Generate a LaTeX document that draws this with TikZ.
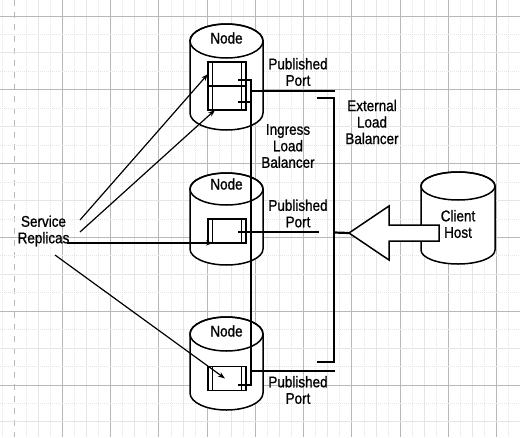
\documentclass[tikz,border=0pt]{standalone}
\usepackage{fontspec}
\setmainfont[FakeStretch=0.87,FakeBold=0.9]{Liberation Sans}
\usetikzlibrary{arrows.meta}

\definecolor{gridmajor}{gray}{0.72}
\definecolor{gridminor}{gray}{0.90}

% cylinder: centre x, top-ellipse y, bottom-ellipse y, x radius, y radius
\newcommand\drawcyl[5]{%
  \draw[cylline,fill=white] ({#1-#4},#2) -- ({#1-#4},#3)
    arc[start angle=180,end angle=360,x radius=#4pt,y radius=#5pt]
    -- ({#1+#4},#2)
    arc[start angle=0,end angle=180,x radius=#4pt,y radius=#5pt] -- cycle;
  \draw[cylline] (#1,#2) ellipse[x radius=#4pt,y radius=#5pt];
}

\tikzset{
  gridmaj/.style={draw=gridmajor,line width=1pt},
  gridhalf/.style={draw=gridminor,line width=1pt},
  gridquar/.style={draw=gridminor,line width=0.8pt,dash pattern=on 1pt off 1pt},
  gridaxis/.style={draw=gridmajor,line width=1.2pt,dash pattern=on 6pt off 6pt},
  cylline/.style={line width=1.5pt},
  lbl/.style={font=\fontsize{15.5}{16.5}\selectfont,align=center,inner sep=0pt},
  ctr/.style={draw,line width=1.5pt,minimum width=38pt,minimum height=24pt,
              inner sep=0pt,outer sep=0pt,fill=white},
  ctrbar/.style={line width=1.2pt},
  lbline/.style={line width=2.2pt},
  replarrow/.style={line width=1.2pt,-{Stealth[length=7pt,width=5pt]}},
  bigarrow/.style={line width=1.5pt,fill=white,line join=miter}
}

\begin{document}
\begin{tikzpicture}[x=1pt,y=-1pt]
\useasboundingbox (0,0) rectangle (520,437);
\fill[white] (0,0) rectangle (520,437);

% background grid
\foreach \j in {-1,...,42}{
  \pgfmathsetmacro\gx{14.2+12.0625*\j}
  \pgfmathtruncatemacro\gm{mod(\j+4,4)}
  \ifnum\gm=0
    \ifnum\j=0 \draw[gridaxis] (\gx,0) -- (\gx,437);
    \else \draw[gridmaj] (\gx,0) -- (\gx,437); \fi
  \else
    \ifnum\gm=2 \draw[gridhalf] (\gx,0) -- (\gx,437);
    \else \draw[gridquar] (\gx,0) -- (\gx,437); \fi
  \fi
}
\foreach \j in {-1,...,23}{
  \pgfmathsetmacro\gy{16+18.45*\j}
  \pgfmathtruncatemacro\gm{mod(\j+4,4)}
  \ifnum\gm=0 \draw[gridmaj] (0,\gy) -- (520,\gy);
  \else
    \ifnum\gm=2 \draw[gridhalf] (0,\gy) -- (520,\gy);
    \else \draw[gridquar] (0,\gy) -- (520,\gy); \fi
  \fi
}

% swarm nodes and the client host
\drawcyl{226.5}{41}{113}{36.5}{17}
\drawcyl{226.5}{189}{249}{36.5}{16}
\drawcyl{226.5}{334}{393}{36.5}{17}
\drawcyl{458}{186}{250}{37}{14}

\node[lbl] (n1) at (226.5,38) {Node};
\node[lbl] (n2) at (226.5,184) {Node};
\node[lbl] (n3) at (226.5,331) {Node};
\node[lbl] (client) at (458,224) {Client\\Host};

% service containers
\node[ctr] (c1a) at (227,74) {};
\node[ctr] (c1b) at (227,98) {};
\node[ctr] (c2) at (227,231) {};
\node[ctr] (c3) at (227,378.5) {};
\foreach \c in {c1a,c1b,c2,c3}{
  \draw[ctrbar] ([xshift=4.5pt]\c.north west) -- ([xshift=4.5pt]\c.south west);
  \draw[ctrbar] ([xshift=-4.5pt]\c.north east) -- ([xshift=-4.5pt]\c.south east);
}

% ingress load balancer
\coordinate (ingtop) at (251,80);
\coordinate (ingbot) at (251,385);
\coordinate (tick1a) at (238,80);
\coordinate (tick1b) at (238,102);
\coordinate (ing1b) at (251,102);
\coordinate (tick3) at (238,385);
\draw[lbline] (tick1a) -- (ingtop) -- (ingbot) -- (tick3);
\draw[lbline] (tick1b) -- (ing1b);

% published ports
\coordinate (port1) at (251,91);
\coordinate (port1e) at (335,91);
\coordinate (port2) at (238,232);
\coordinate (port2e) at (319,232);
\coordinate (port3) at (251,371);
\coordinate (port3e) at (335,371);
\draw[lbline] (port1) -- (port1e);
\draw[lbline] (port2) -- (port2e);
\draw[lbline] (port3) -- (port3e);

% external load balancer
\coordinate (exta) at (317,98);
\coordinate (extt) at (334,98);
\coordinate (extb) at (334,362);
\coordinate (extc) at (317,362);
\coordinate (extm) at (334,232.5);
\draw[lbline] (exta) -- (extt) -- (extb) -- (extc);

% request arrow from the client
\coordinate (tip) at (349,233);
\draw[lbline] (extm) -- (tip);
\draw[bigarrow] (tip) -- (389,206) -- (389,225) -- (439,225) -- (439,241)
  -- (389,241) -- (389,260) -- cycle;

% labels
\node[lbl] (pp1) at (298,72) {Published\\Port};
\node[lbl] (pp2) at (298,213.5) {Published\\Port};
\node[lbl] (pp3) at (298,390) {Published\\Port};
\node[lbl] (ilb) at (288,146) {Ingress\\Load\\Balancer};
\node[lbl] (elb) at (372,122) {External\\Load\\Balancer};
\node[lbl] (svc) at (43.5,231) {Service\\Replicas};

% replicas
\coordinate (r1) at (80,220);
\coordinate (r2) at (80,232);
\coordinate (r3) at (67,243);
\coordinate (r4) at (55,255);
\draw[replarrow] (r1) -- (c1a.west);
\draw[replarrow] (r2) -- ([xshift=-12pt]c1b.south);
\draw[replarrow] (r3) -- ([xshift=5pt]c2.south west);
\draw[replarrow] (r4) -- ([xshift=-2pt]c3.center);
\end{tikzpicture}
\end{document}
